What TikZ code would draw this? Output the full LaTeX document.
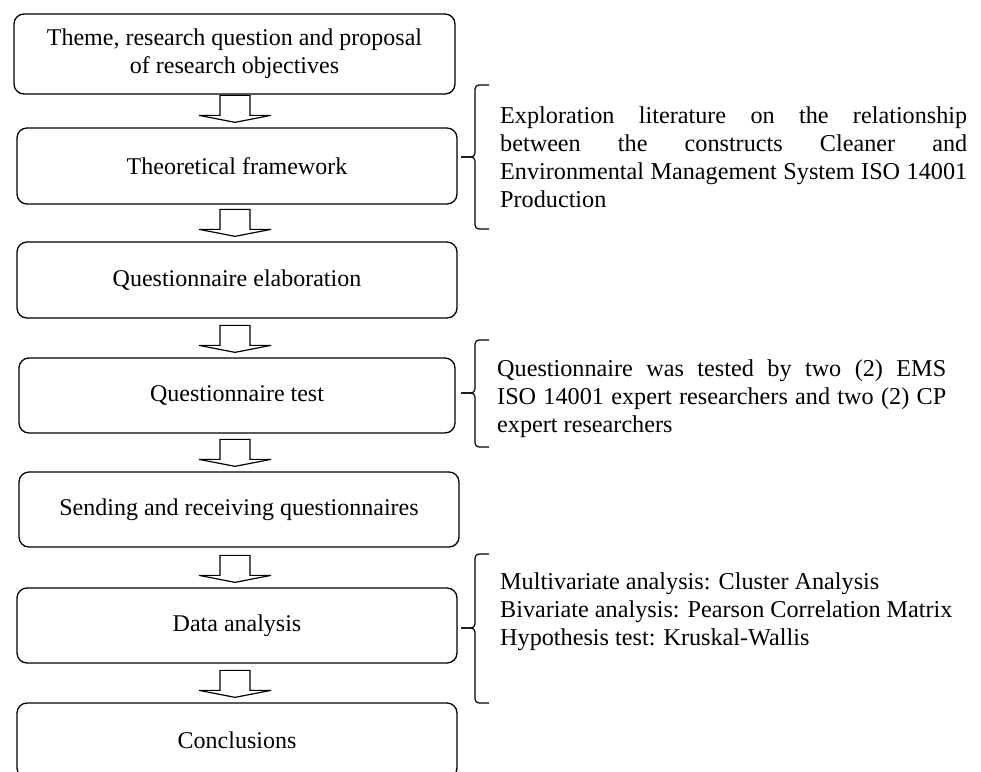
\documentclass[tikz,border=0pt]{standalone}
\usepackage{fontspec}
\setmainfont{Liberation Serif}
\usetikzlibrary{calc}
\newcommand\blockarr[2]{%
  \path[blockarrow] ($(#2.north -| ax)+(-15,-32)$) -- ($(#2.north -| ax)+(15,-32)$)
    -- ($(#2.north -| ax)+(15,-12)$) -- ($(#2.north -| ax)+(36,-12)$)
    -- ($(#2.north -| ax)+(0,-5)$) -- ($(#2.north -| ax)+(-36,-12)$)
    -- ($(#2.north -| ax)+(-15,-12)$) -- cycle;}
\newcommand\sidebrace[3]{%
  \draw[bracepath] (489,#1) -- (475,#1) -- (475,#2) -- (461,#2);
  \draw[bracepath] (461,#2) -- (475,#2) -- (475,#3) -- (489,#3);}
\newcommand\notefont{\fontsize{24.2}{28}\selectfont
  \lineskiplimit=-30pt\relax\lineskip=0pt\relax}
\begin{document}
\begin{tikzpicture}[x=1pt,y=-1pt,
  box/.style={draw, rounded corners=10pt, line width=1.3pt, inner sep=0pt,
    align=center, font=\fontsize{24}{28}\selectfont},
  blockarrow/.style={draw, line width=1.2pt, fill=white, line join=miter},
  bracepath/.style={draw, line width=1.2pt, rounded corners=4pt},
  note/.style={anchor=west, inner sep=0pt, align=left, font=\notefont}]
\useasboundingbox (0,0) rectangle (981,771);
\clip (0,0) rectangle (981,771);
\coordinate (ax) at (235,0);

\node[box, minimum width=441pt, minimum height=80pt] (b1) at (234.5,54)
  {Theme, research question and proposal\\of research objectives};
\node[box, minimum width=440pt, minimum height=76pt] (b2) at (237,166)
  {Theoretical framework};
\node[box, minimum width=440pt, minimum height=76pt] (b3) at (237,280)
  {Questionnaire elaboration};
\node[box, minimum width=436pt, minimum height=75pt] (b4) at (237,395.5)
  {Questionnaire test};
\node[box, minimum width=440pt, minimum height=75pt] (b5) at (239,509.5)
  {Sending and receiving questionnaires};
\node[box, minimum width=440pt, minimum height=75pt] (b6) at (237,625.5)
  {Data analysis};
\node[box, minimum width=440pt, minimum height=75pt] (b7) at (237,740.5)
  {Conclusions};

\blockarr{b1}{b2}
\blockarr{b2}{b3}
\blockarr{b3}{b4}
\blockarr{b4}{b5}
\blockarr{b5}{b6}
\blockarr{b6}{b7}

\sidebrace{85}{157}{229}
\sidebrace{340}{393}{447}
\sidebrace{554}{628}{703}

\node[note] (t1) at (500,157)
  {\makebox[467pt][s]{Exploration literature on the relationship}\\
   \makebox[467pt][s]{between the constructs Cleaner and}\\
   \makebox[467pt][s]{Environmental Management System ISO 14001}\\
   Production};
\node[note] (t2) at (497,399)
  {\makebox[449pt][s]{Questionnaire was tested by two (2) EMS}\\
   \makebox[449pt][s]{ISO 14001 expert researchers and two (2) CP}\\
   expert researchers};
\node[note] (t3) at (500,612)
  {Multivariate analysis: Cluster Analysis\\
   Bivariate analysis: Pearson Correlation Matrix\\
   Hypothesis test: Kruskal-Wallis};
\end{tikzpicture}
\end{document}
